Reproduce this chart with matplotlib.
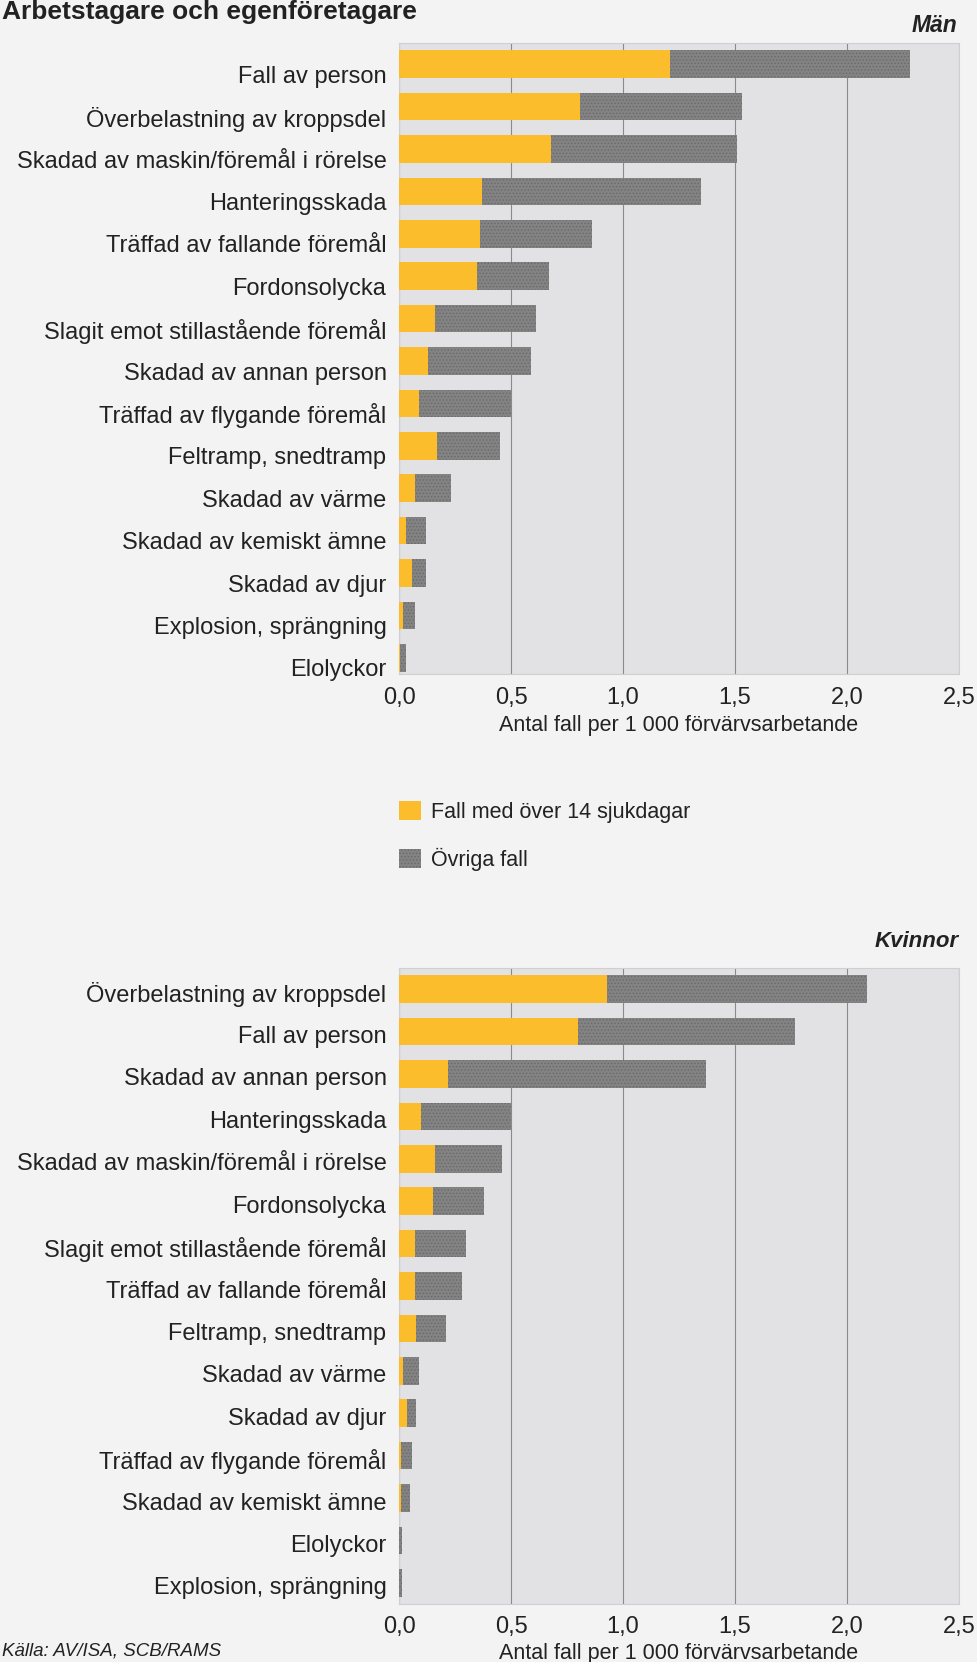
import matplotlib
matplotlib.use("Agg")
import matplotlib.pyplot as plt
from matplotlib.transforms import ScaledTranslation
import numpy as np

# === DATA ===
MEN_CATEGORIES = [
    "Fall av person",
    "Överbelastning av kroppsdel",
    "Skadad av maskin/föremål i rörelse",
    "Hanteringsskada",
    "Träffad av fallande föremål",
    "Fordonsolycka",
    "Slagit emot stillastående föremål",
    "Skadad av annan person",
    "Träffad av flygande föremål",
    "Feltramp, snedtramp",
    "Skadad av värme",
    "Skadad av kemiskt ämne",
    "Skadad av djur",
    "Explosion, sprängning",
    "Elolyckor",
]
MEN_LONG = [1.21, 0.81, 0.68, 0.37, 0.36, 0.35, 0.16, 0.13, 0.09, 0.17, 0.07, 0.03, 0.06, 0.02, 0.005]
MEN_OTHER = [1.07, 0.72, 0.83, 0.98, 0.50, 0.32, 0.45, 0.46, 0.41, 0.28, 0.16, 0.09, 0.06, 0.05, 0.027]

WOMEN_CATEGORIES = [
    "Överbelastning av kroppsdel",
    "Fall av person",
    "Skadad av annan person",
    "Hanteringsskada",
    "Skadad av maskin/föremål i rörelse",
    "Fordonsolycka",
    "Slagit emot stillastående föremål",
    "Träffad av fallande föremål",
    "Feltramp, snedtramp",
    "Skadad av värme",
    "Skadad av djur",
    "Träffad av flygande föremål",
    "Skadad av kemiskt ämne",
    "Elolyckor",
    "Explosion, sprängning",
]
WOMEN_LONG = [0.93, 0.80, 0.22, 0.10, 0.16, 0.15, 0.07, 0.07, 0.075, 0.02, 0.035, 0.01, 0.01, 0.0, 0.0]
WOMEN_OTHER = [1.16, 0.97, 1.15, 0.40, 0.30, 0.23, 0.23, 0.21, 0.135, 0.07, 0.04, 0.05, 0.04, 0.012, 0.012]

XTICKS = [0.0, 0.5, 1.0, 1.5, 2.0, 2.5]
XTICK_LABELS = ["0,0", "0,5", "1,0", "1,5", "2,0", "2,5"]
LEGEND_LABELS = ["Fall med över 14 sjukdagar", "Övriga fall"]

# === STYLE ===
W, H = 977, 1662
YELLOW = "#fbbd2b"
GREY = "#838383"
PANEL_BG = "#e2e2e5"
PAGE_BG = "#f3f3f3"
TEXT = "#222222"
plt.rcParams["font.family"] = ["Liberation Sans", "DejaVu Sans"]
plt.rcParams["hatch.linewidth"] = 0.6


def px_axes(fig, left, top, right, bottom):
    return fig.add_axes([left / W, 1 - bottom / H, (right - left) / W, (bottom - top) / H])


def draw_panel(ax, cats, long_vals, other_vals, top_margin, bottom_margin, xpad, label_shift):
    y = np.arange(len(cats))
    long_vals = np.array(long_vals)
    other_vals = np.array(other_vals)
    ax.set_facecolor(PANEL_BG)
    ax.barh(y, long_vals, height=0.65, color=YELLOW, lw=0, zorder=3, label=LEGEND_LABELS[0])
    ax.barh(y, other_vals, left=long_vals, height=0.65, color=GREY, lw=0,
            hatch=".....", edgecolor="#6a6a6a", zorder=3, label=LEGEND_LABELS[1])
    ax.set_xlim(0, 2.5)
    ax.set_ylim(len(cats) - 1 + bottom_margin, -top_margin)
    ax.set_yticks(y)
    ax.set_yticklabels(cats, fontsize=17, color=TEXT)
    ax.set_xticks(XTICKS)
    ax.set_xticklabels(XTICK_LABELS, fontsize=17, color=TEXT)
    ax.tick_params(axis="both", length=0)
    ax.tick_params(axis="y", pad=9)
    ax.tick_params(axis="x", pad=xpad)
    ax.grid(axis="x", color="#8a8a8a", lw=0.8, zorder=1)
    for s in ax.spines.values():
        s.set_color("#cfcfd2")
        s.set_linewidth(0.8)
    ax.set_xlabel("Antal fall per 1 000 förvärvsarbetande", fontsize=15.5, color=TEXT, labelpad=4)
    # labels sit slightly below the bar centres in the original
    shift = ScaledTranslation(0, -label_shift / 100, ax.figure.dpi_scale_trans)
    for lbl in ax.get_yticklabels():
        lbl.set_transform(lbl.get_transform() + shift)


fig = plt.figure(figsize=(W / 100, H / 100), dpi=100, facecolor=PAGE_BG)

ax1 = px_axes(fig, 399, 43, 959, 674)
draw_panel(ax1, MEN_CATEGORIES, MEN_LONG, MEN_OTHER, 0.5, 0.38, 9.5, 10)

ax2 = px_axes(fig, 399, 968, 959, 1604)
draw_panel(ax2, WOMEN_CATEGORIES, WOMEN_LONG, WOMEN_OTHER, 0.5, 0.5, 8.5, 3)

handles, labels = ax1.get_legend_handles_labels()
fig.legend(handles, labels, loc="upper left", bbox_to_anchor=(399 / W, 1 - 801 / H),
           frameon=False, fontsize=15.5, handlelength=1.0, handleheight=1.0,
           handletextpad=0.5, labelspacing=1.15, borderpad=0, borderaxespad=0,
           labelcolor=TEXT)

fig.text(2 / W, 1 - 12 / H, "Arbetstagare och egenföretagare", fontsize=19,
         fontweight="bold", color=TEXT, ha="left", va="center")
fig.text(957 / W, 1 - 25 / H, "Män", fontsize=16.5, fontweight="bold", fontstyle="italic",
         color=TEXT, ha="right", va="center")
fig.text(959 / W, 1 - 942 / H, "Kvinnor", fontsize=16, fontweight="bold", fontstyle="italic",
         color=TEXT, ha="right", va="center")
fig.text(2 / W, 1 - 1651 / H, "Källa: AV/ISA, SCB/RAMS", fontsize=13.5, fontstyle="italic",
         color=TEXT, ha="left", va="center")

fig.savefig("out.png", dpi=100, facecolor=PAGE_BG)
